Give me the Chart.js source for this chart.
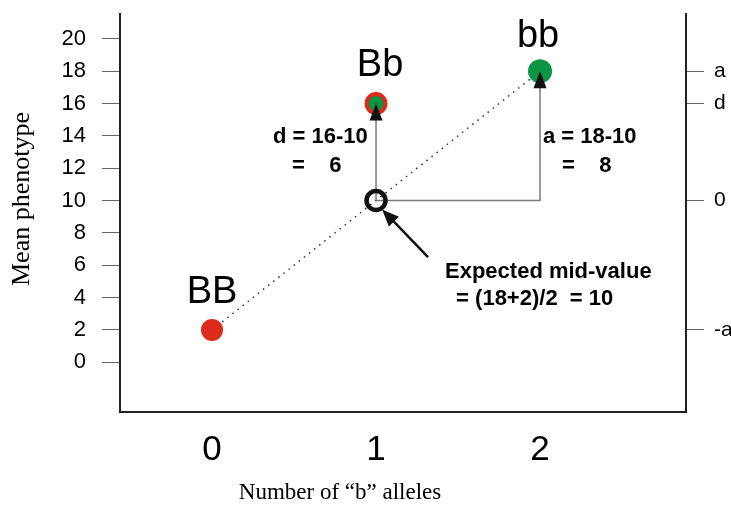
<!DOCTYPE html>
<html><head><meta charset="utf-8">
<script src="https://cdn.jsdelivr.net/npm/chart.js@4"></script>
<style>html,body{margin:0;padding:0;background:#fff}#wrap{width:731px;height:506px;position:relative}</style>
</head><body><div id="wrap"><canvas id="c"></canvas></div>
<script>
// ---- data ----
const alleleCounts = [0, 1, 2];
const genotypes = ['BB', 'Bb', 'bb'];
const meanPhenotype = [2, 16, 18];
const midValue = 10;
const leftTickValues = [0, 2, 4, 6, 8, 10, 12, 14, 16, 18, 20];
const xTickValues = [0, 1, 2];
const rightTickValues = [2, 10, 16, 18];
const rightTickLabels = ['-a', '0', 'd', 'a'];
const xTitle = 'Number of \u201cb\u201d alleles';
const yTitle = 'Mean phenotype';
const dText = ['d = 16-10', '=    6'];
const aText = ['a = 18-10', '=    8'];
const midText = ['Expected mid-value', ' = (18+2)/2  = 10'];

const RED = '#dc2a1c', GREEN = '#0a9444', GRAY = '#7a7a7a';
const SANS = '"Liberation Sans", Arial, sans-serif';
const SERIF = '"Liberation Serif", "Times New Roman", serif';

const pt = i => ({x: alleleCounts[i], y: meanPhenotype[i]});
const mid = {x: alleleCounts[1], y: midValue};

const annot = {
  id: 'annot',
  afterDatasetsDraw(chart) {
    const ctx = chart.ctx, xs = chart.scales.x, ys = chart.scales.y;
    const px = v => xs.getPixelForValue(v), py = v => ys.getPixelForValue(v);
    function head(fx, fy, tx, ty, len, hw) {
      const ang = Math.atan2(ty - fy, tx - fx);
      ctx.save(); ctx.fillStyle = '#111'; ctx.beginPath();
      ctx.moveTo(tx, ty);
      ctx.lineTo(tx - len*Math.cos(ang) + hw*Math.sin(ang), ty - len*Math.sin(ang) - hw*Math.cos(ang));
      ctx.lineTo(tx - len*Math.cos(ang) - hw*Math.sin(ang), ty - len*Math.sin(ang) + hw*Math.cos(ang));
      ctx.closePath(); ctx.fill(); ctx.restore();
    }
    // arrowheads on the d and a lines
    head(px(mid.x), py(mid.y), px(pt(1).x), py(pt(1).y), 17, 6.5);
    head(px(pt(2).x), py(mid.y), px(pt(2).x), py(pt(2).y), 17, 6.5);
    // pointer arrow to mid-value
    const sx = px(1.317), sy = py(6.5), ex = px(1.037), ey = py(9.45);
    ctx.save(); ctx.strokeStyle = '#111'; ctx.lineWidth = 2.5;
    ctx.beginPath(); ctx.moveTo(sx, sy); ctx.lineTo(ex + (sx-ex)*0.2, ey + (sy-ey)*0.2); ctx.stroke(); ctx.restore();
    head(sx, sy, ex, ey, 17, 7);

    ctx.save(); ctx.fillStyle = '#000'; ctx.textBaseline = 'alphabetic';
    // genotype labels
    ctx.font = '38px ' + SANS; ctx.textAlign = 'center';
    ctx.fillText(genotypes[0], px(pt(0).x), 303);
    ctx.fillText(genotypes[1], px(pt(1).x) + 4, 76);
    ctx.fillText(genotypes[2], px(pt(2).x) - 2, 47);
    // d / a text
    ctx.font = 'bold 22px ' + SANS; ctx.textAlign = 'left';
    ctx.fillText(dText[0], 273, 143); ctx.fillText(dText[1], 292, 172);
    ctx.fillText(aText[0], 543, 143); ctx.fillText(aText[1], 562, 172);
    ctx.fillText(midText[0], 445, 278); ctx.fillText(midText[1], 450, 305);
    // axis titles
    ctx.font = '23px ' + SERIF; ctx.textAlign = 'center';
    ctx.fillText(xTitle, 340, 499);
    ctx.translate(29, 199); ctx.rotate(-Math.PI/2);
    ctx.font = '26px ' + SERIF; ctx.fillText(yTitle, 0, 0);
    ctx.restore();
  }
};

const noPadV = s => { s.paddingTop = 0; s.paddingBottom = 0; };

new Chart(document.getElementById('c'), {
  type: 'scatter',
  data: {
    datasets: [
      {data: [pt(0)], backgroundColor: RED, borderColor: RED, borderWidth: 0, pointRadius: 11, order: 1},
      {data: [pt(1)], backgroundColor: GREEN, borderColor: RED, borderWidth: 4, pointRadius: 9.5, order: 1},
      {data: [pt(2)], backgroundColor: GREEN, borderColor: GREEN, borderWidth: 0, pointRadius: 12, order: 1},
      {data: [mid], backgroundColor: 'rgba(0,0,0,0)', borderColor: '#111', borderWidth: 4.5, pointRadius: 9.5, order: 1},
      {data: [pt(0), pt(2)], showLine: true, borderColor: '#333', borderWidth: 1.5, borderDash: [1.5, 5], pointRadius: 0, order: 5},
      {data: [mid, pt(1)], showLine: true, borderColor: GRAY, borderWidth: 1.5, pointRadius: 0, order: 4},
      {data: [mid, {x: alleleCounts[2], y: midValue}, pt(2)], showLine: true, borderColor: GRAY, borderWidth: 1.5, pointRadius: 0, order: 4}
    ]
  },
  options: {
    responsive: true, maintainAspectRatio: false, animation: false,
    layout: {padding: {top: 12, left: 0, right: 0, bottom: 0}},
    plugins: {legend: {display: false}, tooltip: {enabled: false}},
    elements: {point: {hoverRadius: 0}},
    scales: {
      x: {
        type: 'linear', min: -0.561, max: 2.89,
        afterFit: s => { s.height = 94; s.paddingLeft = 0; s.paddingRight = 0; },
        afterBuildTicks: s => { s.ticks = xTickValues.map(v => ({value: v})); },
        ticks: {font: {family: SANS, size: 35}, color: '#000', padding: 17, callback: v => String(v)},
        grid: {drawOnChartArea: false, drawTicks: false},
        border: {display: true, color: '#222', width: 2}
      },
      y: {
        type: 'linear', min: -3.08, max: 21.54,
        afterFit: s => { s.width = 120; noPadV(s); },
        afterBuildTicks: s => { s.ticks = leftTickValues.map(v => ({value: v})); },
        ticks: {font: {family: SANS, size: 22}, color: '#000', padding: 16, callback: v => String(v)},
        grid: {drawOnChartArea: false, drawTicks: true, tickLength: 18, color: '#666', lineWidth: 1},
        border: {display: true, color: '#222', width: 2}
      },
      y2: {
        type: 'linear', position: 'right', min: -3.08, max: 21.54,
        afterFit: s => { s.width = 45; noPadV(s); },
        afterBuildTicks: s => { s.ticks = rightTickValues.map(v => ({value: v})); },
        ticks: {font: {family: SANS, size: 21}, color: '#000', padding: 10,
          callback: v => rightTickLabels[rightTickValues.indexOf(v)]},
        grid: {drawOnChartArea: false, drawTicks: true, tickLength: 18, color: '#666', lineWidth: 1},
        border: {display: true, color: '#222', width: 2}
      }
    }
  },
  plugins: [annot]
});
</script>
</body></html>
